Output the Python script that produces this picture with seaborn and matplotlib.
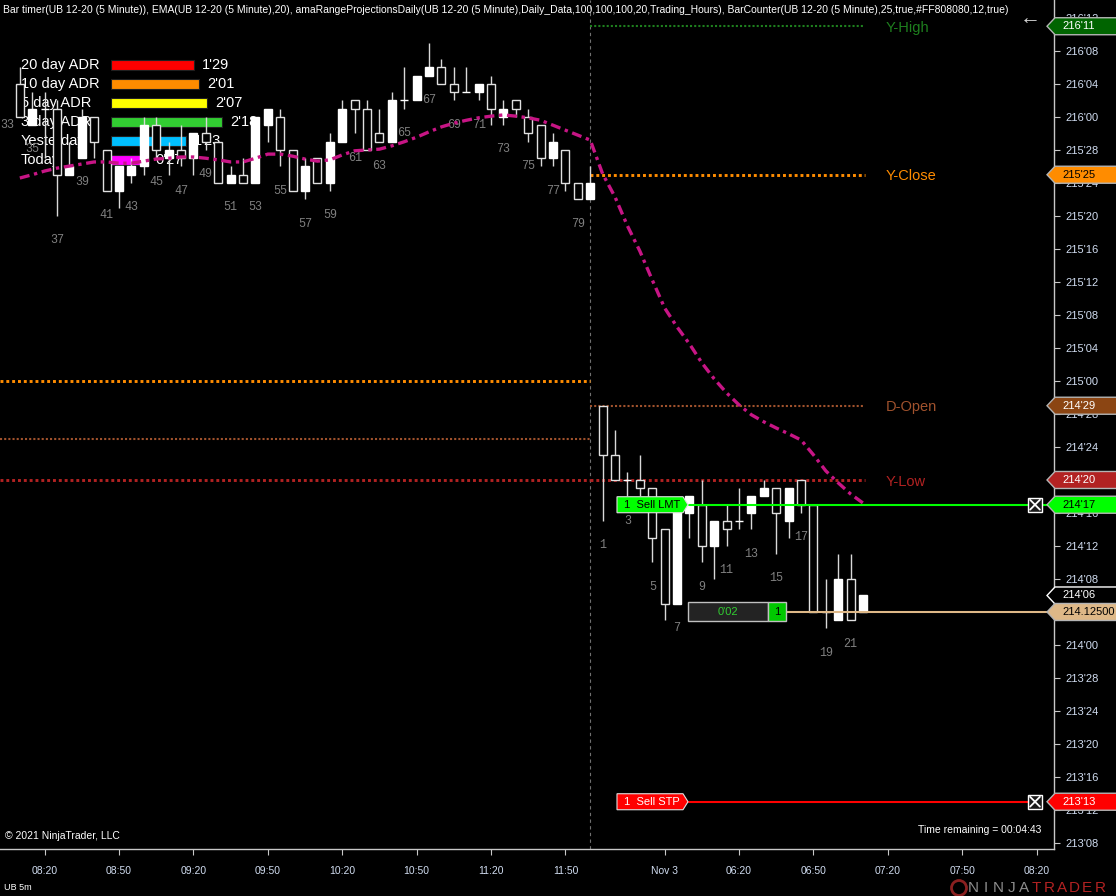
import matplotlib
matplotlib.use("Agg")
import matplotlib.pyplot as plt
import matplotlib.patches as mpatches
import pandas as pd
import seaborn as sns

# prices are kept in 32nds above 213'00 (UB 12-20, 5 minute bars)
bar_no = list(range(34, 103))   # 34..80 = prior session, 81..102 = Nov 3 session
open_ = [100, 95, 97, 97, 89, 91, 96, 92, 87, 89, 90, 95, 91, 92, 91, 94, 93, 88, 89, 88,
         95, 96, 92, 87, 91, 88, 93, 98, 97, 94, 93, 98, 98, 101, 102, 100, 99, 99, 100, 96,
         98, 96, 95, 91, 92, 88, 86,
         61, 55, 52, 52, 51, 46, 37, 48, 49, 44, 47, 47, 48, 50, 51, 47, 52, 49, 36, 35, 40, 36]
high = [102, 99, 99, 98, 93, 97, 96, 92, 90, 91, 96, 96, 93, 95, 94, 96, 93, 90, 91, 96,
        97, 97, 92, 91, 91, 94, 98, 98, 98, 97, 99, 102, 101, 105, 103, 102, 102, 100, 101, 98,
        98, 97, 95, 94, 92, 88, 90,
        61, 58, 53, 55, 51, 46, 49, 50, 52, 47, 49, 51, 50, 52, 51, 51, 52, 49, 40, 43, 43, 38]
low = [96, 95, 91, 84, 89, 91, 91, 87, 85, 88, 89, 91, 89, 90, 89, 92, 88, 88, 88, 88,
       93, 90, 87, 86, 88, 87, 93, 94, 92, 93, 93, 97, 98, 101, 100, 98, 99, 98, 95, 95,
       96, 93, 90, 90, 87, 86, 86,
       47, 52, 50, 50, 42, 35, 37, 45, 42, 40, 44, 46, 46, 50, 43, 45, 48, 36, 34, 35, 35, 36]
close = [96, 97, 97, 89, 90, 96, 93, 87, 90, 90, 95, 92, 92, 91, 94, 93, 88, 89, 88, 96,
         97, 92, 87, 90, 88, 93, 97, 97, 92, 93, 98, 98, 101, 102, 100, 99, 99, 100, 97, 97,
         97, 94, 91, 93, 88, 86, 88,
         55, 52, 52, 51, 45, 37, 49, 50, 44, 47, 46, 47, 50, 51, 48, 51, 49, 36, 36, 40, 35, 38]
ema20 = [88.6, 89.0, 89.45, 89.8, 90.05, 90.3, 90.55, 90.55, 90.4, 90.4, 90.65, 90.9, 91.0,
         91.15, 91.15, 91.0, 90.8, 90.55, 90.55, 91.0, 91.5, 91.5, 91.25, 90.9, 90.65, 90.8,
         91.4, 91.9, 92.0, 92.1, 92.5, 93.0, 93.55, 94.2, 94.8, 95.25, 95.6, 95.9, 96.1, 96.25,
         96.1, 95.9, 95.6, 95.0, 94.4, 93.8, 93.2,
         89.1, 86.3, 82.8, 79.75, 76.25, 72.85, 70.55, 68.5, 66.2, 64.25, 62.55, 61.1, 59.9,
         59.05, 58.3, 57.6, 56.85, 55.05, 53.1, 51.65, 50.3, 49.2]
session_break = 80
first_counter_bar, first_counter_low = 33, 98   # counter label of the bar cut off at the left edge

adr_names = ['20 day ADR', '10 day ADR', '5 day ADR', '3 day ADR', 'Yesterday', 'Today']
adr_ticks = [61, 65, 71, 82, 55, 27]
adr_colors = ['#FF0000', '#FF8C00', '#FFFF00', '#32CD32', '#00BFFF', '#FF00FF']

time_pos = [36, 42, 48, 54, 60, 66, 72, 78, 86, 92, 98, 104, 110, 116]
time_labels = ['08:20', '08:50', '09:20', '09:50', '10:20', '10:50', '11:20', '11:50',
               'Nov 3', '06:20', '06:50', '07:20', '07:50', '08:20']

level_names = ['Y-High', 'Y-Close', 'D-Open', 'Y-Low']
level_ticks = [107, 89, 61, 52]
level_colors = ['#1E7F1E', '#FF8C00', '#A0522D', '#B22222']
level_marker_fill = ['#006400', '#FF8C00', '#8B4513', '#B22222']
level_marker_text = ['white', 'black', 'white', 'white']
prior_levels = [64, 57, 52]          # levels still drawn across the prior session
prior_colors = ['#FF8C00', '#A0522D', '#B22222']

sell_lmt, sell_stp, last_price, bar_timer_px = 49, 13, 36, 38

W, H = 1116, 896
X0, PXB = 32.4, 12.4        # first visible bar, px per bar
Y0, PXT = 110.18, 8.25      # top price (32nds), px per 32nd


def gx(px):
    return X0 + px / PXB


def fmt(t):
    return f"{213 + t // 32}'{t % 32:02d}"


sns.set_theme(style='dark', rc={
    'figure.facecolor': 'black', 'axes.facecolor': 'black', 'axes.edgecolor': '#c8c8c8',
    'axes.grid': False, 'xtick.color': '#c8c8c8', 'ytick.color': '#c8c8c8',
    'xtick.labelcolor': '#d0dcf0', 'ytick.labelcolor': '#d0dcf0'})
plt.rcParams['font.family'] = ['Liberation Sans', 'DejaVu Sans']

fig = plt.figure(figsize=(W / 100, H / 100), dpi=100)
ax = fig.add_axes([0, 47 / H, 1054 / W, 849 / H], zorder=1)
ax.set_facecolor('none')
lax = fig.add_axes([111 / W, (H - 169.5) / H, 250 / W, 114 / H], zorder=0)

# ---- ADR panel (drawn beneath the candles) ----
adr = pd.DataFrame({'name': adr_names, 'ticks': adr_ticks})
sns.barplot(data=adr, x='ticks', y='name', hue='name', palette=adr_colors, width=0.53,
            legend=False, ax=lax, edgecolor='#202020', linewidth=0.8, saturation=1)
lax.set_xlim(0, 250 / 1.355)
lax.set_ylim(5.5, -0.5)
lax.axis('off')
for i, (n, v) in enumerate(zip(adr_names, adr_ticks)):
    lax.text(-90 / 1.355, i, n, color='white', fontsize=10.5, va='center', ha='left', clip_on=False)
    lax.text(v + 8 / 1.355, i, f"{v // 32}'{v % 32:02d}", color='white', fontsize=10.5,
             va='center', ha='left', clip_on=False)

# ---- candles ----
df = pd.DataFrame({'bar': bar_no, 'o': open_, 'h': high, 'l': low, 'c': close, 'ema': ema20})
up = df.c >= df.o
ax.vlines(df.bar, df.l, df.h, color='#d8d8d8', lw=1, zorder=3)
ax.bar(df.bar[up], (df.c - df.o)[up], bottom=df.o[up], width=0.65, color='white',
       edgecolor='white', lw=1, zorder=4)
ax.bar(df.bar[~up], (df.o - df.c)[~up], bottom=df.c[~up], width=0.65, color='black',
       edgecolor='#e0e0e0', lw=1, zorder=4)

sns.lineplot(data=df, x='bar', y='ema', ax=ax, color='#C71585', lw=2.4, zorder=5)
ax.lines[-1].set_linestyle((0, (3.0, 1.4, 1, 1.4)))

# bar counter
counter = [(b, lo) for b, lo in zip(bar_no, low) if b % 2 == 1]
counter.insert(0, (first_counter_bar, first_counter_low))
for b, lo in counter:
    num = b if b <= session_break else b - session_break
    ax.annotate(str(num), (b, lo), xytext=(0, -17.3), textcoords='offset points',
                ha='center', va='center', color='#808080', fontsize=8.5,
                family='Liberation Mono', zorder=2)

# ---- price levels ----
ax.axvline(session_break, color='#707070', lw=0.8, ls=(0, (3, 3)), zorder=1)
for lv, col in zip(prior_levels, prior_colors):
    lw = 1.5 if col == '#A0522D' else 2.1
    ax.plot([X0, session_break], [lv, lv], color=col, lw=lw, ls=(0, (1, 1)), zorder=2)
for name, lv, col in zip(level_names, level_ticks, level_colors):
    lw = 1.5 if name in ('Y-High', 'D-Open') else 2.1
    ax.plot([session_break, gx(865)], [lv, lv], color=col, lw=lw, ls=(0, (1, 1)), zorder=2)
    ax.text(gx(886), lv - 0.2, name, color=col, fontsize=10.5, va='center', ha='left')

# orders
ax.plot([gx(689), gx(1028)], [sell_lmt, sell_lmt], color='#00FF00', lw=1.5, zorder=6)
ax.plot([gx(1042), gx(1054)], [sell_lmt, sell_lmt], color='#00FF00', lw=1.5, zorder=6, clip_on=False)
ax.plot([gx(686), gx(1028)], [sell_stp, sell_stp], color='#FF0000', lw=1.5, zorder=6)
ax.plot([gx(786), gx(1054)], [last_price, last_price], color='#DEB887', lw=1.5, zorder=6, clip_on=False)


def order_tag(level, x0, x1, text, face, tcolor):
    hh = 8 / PXT
    pts = [(gx(x0), level - hh), (gx(x1), level - hh), (gx(x1 + 5), level),
           (gx(x1), level + hh), (gx(x0), level + hh)]
    ax.add_patch(mpatches.Polygon(pts, closed=True, fc=face, ec='#e0e0e0', lw=0.8, zorder=7))
    ax.text(gx(x0 + 7), level, text, color=tcolor, fontsize=8, va='center', ha='left', zorder=8)


def close_box(level):
    hw, hh = 7 / PXB, 7 / PXT
    cx = gx(1035)
    ax.add_patch(mpatches.Rectangle((cx - hw, level - hh), 2 * hw, 2 * hh, fc='#1a1a1a',
                                    ec='white', lw=1, zorder=7))
    ax.plot([cx - hw * 0.7, cx + hw * 0.7], [level - hh * 0.7, level + hh * 0.7], color='white', lw=1.3, zorder=8)
    ax.plot([cx - hw * 0.7, cx + hw * 0.7], [level + hh * 0.7, level - hh * 0.7], color='white', lw=1.3, zorder=8)


order_tag(sell_lmt, 617, 683, '1  Sell LMT', '#00FF00', 'black')
order_tag(sell_stp, 617, 683, '1  Sell STP', '#FF0000', 'white')
close_box(sell_lmt)
close_box(sell_stp)

# position box
bh = 9.5 / PXT
ax.add_patch(mpatches.Rectangle((gx(688), last_price - bh), 80 / PXB, 2 * bh, fc='#232323',
                                ec='#c0c0c0', lw=1, zorder=7))
ax.add_patch(mpatches.Rectangle((gx(768), last_price - bh), 18 / PXB, 2 * bh, fc='#00C800',
                                ec='#c0c0c0', lw=1, zorder=7))
ax.text(gx(728), last_price, "0'02", color='#32CD32', fontsize=8, ha='center', va='center', zorder=8)
ax.text(gx(777), last_price, '1', color='black', fontsize=8, ha='center', va='center', zorder=8)


# right axis markers
def axis_marker(level, text, face, tcolor, edge='#b4b4b4'):
    hh = 8.5 / PXT
    pts = [(gx(1047), level), (gx(1055), level + hh), (gx(1120), level + hh),
           (gx(1120), level - hh), (gx(1055), level - hh)]
    ax.add_patch(mpatches.Polygon(pts, closed=True, fc=face, ec=edge, lw=1, clip_on=False, zorder=10))
    ax.text(gx(1062), level, text, color=tcolor, fontsize=8, va='center', ha='left',
            clip_on=False, zorder=11)


for lv, fc, tc in zip(level_ticks, level_marker_fill, level_marker_text):
    axis_marker(lv, fmt(lv), fc, tc)
axis_marker(sell_lmt, fmt(sell_lmt), '#00FF00', 'black')
axis_marker(bar_timer_px, fmt(bar_timer_px), 'black', 'white', edge='white')
axis_marker(last_price, f"{213 + last_price / 32:.5f}", '#DEB887', 'black')
axis_marker(sell_stp, fmt(sell_stp), '#FF0000', 'white')

# ---- axes ----
ax.set_xlim(X0, gx(1054))
ax.set_ylim(Y0 - 849 / PXT, Y0)
ax.yaxis.tick_right()
yt = list(range(8, 109, 4))
covered = set(level_ticks) | {last_price}      # tick labels hidden under a marker
ax.set_yticks(yt)
ax.set_yticklabels(['' if t in covered else fmt(t) for t in yt])
ax.set_xticks(time_pos)
ax.set_xticklabels(time_labels)
ax.tick_params(axis='y', length=4, width=0.8, pad=4, labelsize=8, right=True, left=False)
ax.tick_params(axis='x', length=4, width=0.8, pad=8, labelsize=7.5, bottom=True)
ax.set_xlabel('')
ax.set_ylabel('')
for s in ['top', 'left']:
    ax.spines[s].set_visible(False)
for s in ['bottom', 'right']:
    ax.spines[s].set_color('#c8c8c8')
    ax.spines[s].set_linewidth(1)


def ftxt(xpx, ypx, s, **kw):
    fig.text(xpx / W, 1 - ypx / H, s, **kw)


ftxt(3, 10, 'Bar timer(UB 12-20 (5 Minute)), EMA(UB 12-20 (5 Minute),20), '
     'amaRangeProjectionsDaily(UB 12-20 (5 Minute),Daily_Data,100,100,100,20,Trading_Hours), '
     'BarCounter(UB 12-20 (5 Minute),25,true,#FF808080,12,true)',
     color='white', fontsize=7.5, va='center', ha='left')
ftxt(1030, 19, '\u2190', color='#d8d8d8', fontsize=15, va='center', ha='center')
ftxt(5, 836, '\u00a9 2021 NinjaTrader, LLC', color='white', fontsize=7.5, va='center', ha='left')
ftxt(1041, 830, 'Time remaining = 00:04:43', color='white', fontsize=7.5, va='center', ha='right')
ftxt(4, 887, 'UB 5m', color='white', fontsize=6.5, va='center', ha='left')

fig.patches.append(mpatches.Ellipse((959 / W, 1 - 888 / H), 15 / W, 15 / H, transform=fig.transFigure,
                                    fc='none', ec='#8a2020', lw=2))
for i, ch in enumerate('NINJATRADER'):
    ftxt(973 + i * 12.7, 888, ch, color='#8c8c8c' if i < 5 else '#B22222', fontsize=11,
         va='center', ha='center')

fig.savefig('out.png', dpi=100, facecolor='black')
